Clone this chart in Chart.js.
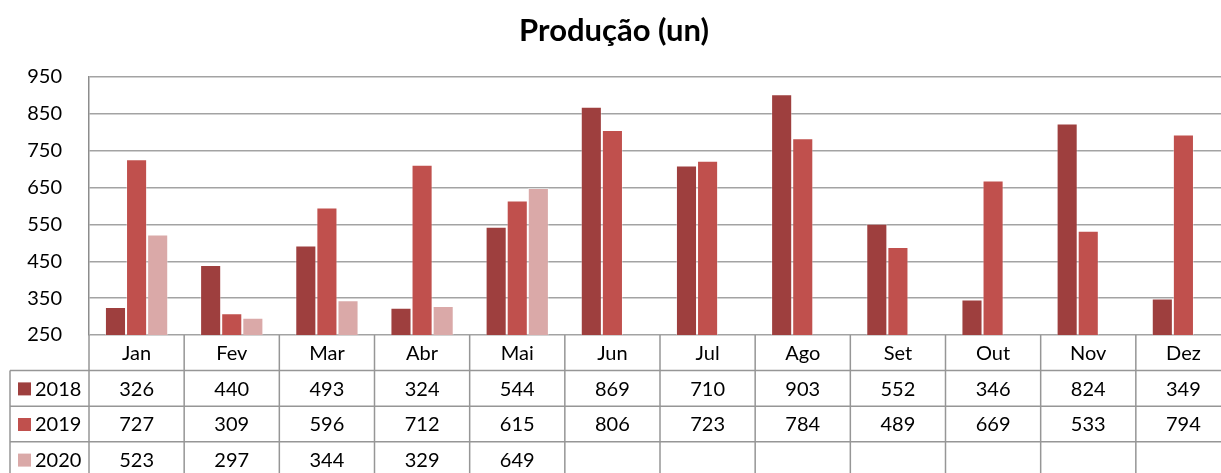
<!DOCTYPE html>
<html>
<head>
<meta charset="utf-8">
<script src="https://cdn.jsdelivr.net/npm/chart.js@4/dist/chart.umd.min.js"></script>
<style>
    body { margin: 0; background: #fff; overflow: hidden; }
    #wrap { width: 1221px; height: 473px; overflow: hidden; }
</style>
</head>
<body>
<div id="wrap"><canvas id="prodChart" width="1240" height="473"></canvas></div>
<script>
const months = ['Jan', 'Fev', 'Mar', 'Abr', 'Mai', 'Jun', 'Jul', 'Ago', 'Set', 'Out', 'Nov', 'Dez'];
const years = ['2018', '2019', '2020'];
const prod2018 = [326, 440, 493, 324, 544, 869, 710, 903, 552, 346, 824, 349];
const prod2019 = [727, 309, 596, 712, 615, 806, 723, 784, 489, 669, 533, 794];
const prod2020 = [523, 297, 344, 329, 649, null, null, null, null, null, null, null];
const yTicks = [250, 350, 450, 550, 650, 750, 850, 950];

const colors = ['#9e3f3e', '#c0504d', '#daa9a8'];
const FONT = 'Lato, "Open Sans", sans-serif';

// data table + title, drawn under the plot using the x scale columns
const tablePlugin = {
    id: 'dataTable',
    afterDraw(chart) {
        const ctx = chart.ctx;
        const x = chart.scales.x;
        const area = chart.chartArea;
        const colW = (x.right - x.left) / months.length;
        const rowH = 35.6;
        const top = area.bottom;
        const legendLeft = 10;
        const series = [prod2018, prod2019, prod2020];

        ctx.save();
        ctx.fillStyle = '#000';
        ctx.font = 'bold 31px ' + FONT;
        ctx.textAlign = 'center';
        ctx.textBaseline = 'middle';
        ctx.fillText('Produção (un)', 614, 31);

        ctx.strokeStyle = '#969696';
        ctx.lineWidth = 1.5;
        ctx.beginPath();
        // vertical column lines
        for (let i = 0; i <= months.length; i++) {
            const lx = x.left + i * colW;
            ctx.moveTo(lx, top);
            ctx.lineTo(lx, chart.height + 5);
        }
        ctx.moveTo(legendLeft, top + rowH);
        ctx.lineTo(legendLeft, chart.height + 5);
        // horizontal row lines
        for (let r = 1; r <= 3; r++) {
            const ly = top + r * rowH;
            ctx.moveTo(legendLeft, ly);
            ctx.lineTo(x.right, ly);
        }
        ctx.stroke();

        ctx.font = '20px ' + FONT;
        ctx.fillStyle = '#000';
        months.forEach((m, i) => {
            ctx.fillText(m, x.getPixelForValue(i), top + rowH / 2 + 1);
        });
        series.forEach((vals, r) => {
            const cy = top + (r + 1.5) * rowH + 1;
            ctx.fillStyle = colors[r];
            ctx.fillRect(18, cy - 7, 13, 13);
            ctx.fillStyle = '#000';
            ctx.textAlign = 'left';
            ctx.fillText(years[r], 35, cy);
            ctx.textAlign = 'center';
            vals.forEach((v, i) => {
                if (v !== null) {
                    ctx.fillText(String(v), x.getPixelForValue(i), cy);
                }
            });
        });
        ctx.restore();
    },
};

new Chart('prodChart', {
    type: 'bar',
    data: {
        labels: months,
        datasets: [prod2018, prod2019, prod2020].map((d, i) => ({
            label: years[i],
            data: d,
            backgroundColor: colors[i],
            borderColor: 'rgba(255,255,255,0.35)',
            borderWidth: 1,
            categoryPercentage: 0.665,
            barPercentage: 1,
        })),
    },
    options: {
        responsive: false,
        animation: false,
        devicePixelRatio: 1,
        layout: {
            padding: { top: 77, bottom: 138, left: 0, right: 9 },
        },
        plugins: {
            legend: { display: false },
            title: { display: false },
            tooltip: { enabled: false },
        },
        scales: {
            x: { display: false },
            y: {
                min: 250,
                max: 950,
                afterFit: (scale) => {
                    scale.width = 89;
                },
                afterBuildTicks: (scale) => {
                    scale.ticks = yTicks.map((v) => ({ value: v }));
                },
                ticks: {
                    color: '#000',
                    padding: 27,
                    font: { family: FONT, size: 20 },
                },
                grid: {
                    color: '#a3a3a3',
                    lineWidth: 1.5,
                    drawTicks: false,
                },
                border: { color: '#8c8c8c', width: 1.5 },
            },
        },
    },
    plugins: [tablePlugin],
});
</script>
</body>
</html>
